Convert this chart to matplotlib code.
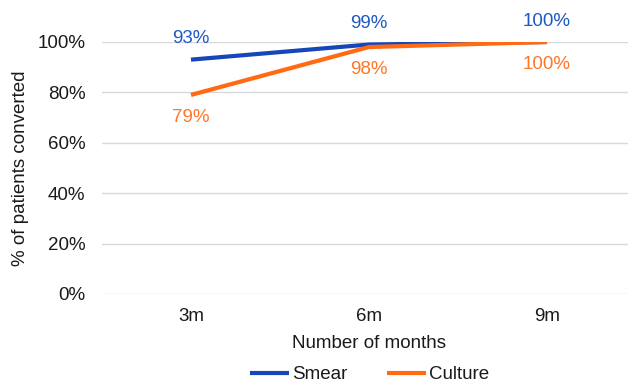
import matplotlib
matplotlib.use("Agg")
import matplotlib.pyplot as plt
from matplotlib.ticker import PercentFormatter

categories = ["3m", "6m", "9m"]
smear = [93, 99, 100]
culture = [79, 98, 100]
smear_labels = ["93%", "99%", "100%"]
culture_labels = ["79%", "98%", "100%"]
yticks = [0, 20, 40, 60, 80, 100]

plt.rcParams['font.family'] = ['Liberation Sans', 'DejaVu Sans']

W, H = 628, 384
fig = plt.figure(figsize=(W / 100, H / 100), dpi=100)
left, right, top, bottom = 102, 636, 42, 294
ax = fig.add_axes([left / W, 1 - bottom / H, (right - left) / W, (bottom - top) / H])

blue = "#1547B8"
orange = "#FF6A13"
blue_t = "#1F57C3"
orange_t = "#FF7626"
txt = "#1A1A1A"
fs = 13.5

x = list(range(len(categories)))
ax.plot(x, smear, color=blue, lw=3.0, solid_capstyle='butt', label="Smear", zorder=3)
ax.plot(x, culture, color=orange, lw=3.0, solid_capstyle='butt', label="Culture", zorder=4)

for xi, v, t in zip(x, smear, smear_labels):
    ax.annotate(t, (xi, v), xytext=(0, 15.0), textcoords='offset points',
                ha='center', va='center', color=blue_t, fontsize=fs)
for xi, v, t in zip(x, culture, culture_labels):
    ax.annotate(t, (xi, v), xytext=(0, -16.5), textcoords='offset points',
                ha='center', va='center', color=orange_t, fontsize=fs)

ax.set_xlim(-0.5, len(categories) - 0.5)
ax.set_ylim(0, 100)
ax.set_yticks(yticks)
ax.yaxis.set_major_formatter(PercentFormatter(decimals=0))
ax.set_xticks(x)
ax.set_xticklabels(categories)
ax.tick_params(axis='both', length=0, labelsize=fs, colors=txt)
ax.tick_params(axis='y', pad=12)
ax.tick_params(axis='x', pad=10)
ax.grid(axis='y', color='#D9D9D9', lw=1.0)
ax.set_axisbelow(True)
for s in ax.spines.values():
    s.set_visible(False)

ax.set_ylabel("% of patients converted", fontsize=fs, color=txt)
ax.yaxis.set_label_coords((21 - left) / (right - left), 0.5)
ax.yaxis.label.set_va('center')
ax.set_xlabel("Number of months", fontsize=fs, color=txt)
ax.xaxis.set_label_coords(0.5, -(343 - bottom) / (bottom - top))
ax.xaxis.label.set_va('center')

fig.legend(loc='center', bbox_to_anchor=(370 / W, 1 - 374.5 / H), ncol=2, frameon=False,
           fontsize=fs, handlelength=2.05, handletextpad=0.2, columnspacing=2.1,
           borderaxespad=0, labelcolor=txt)

fig.savefig("out.png", dpi=100)
